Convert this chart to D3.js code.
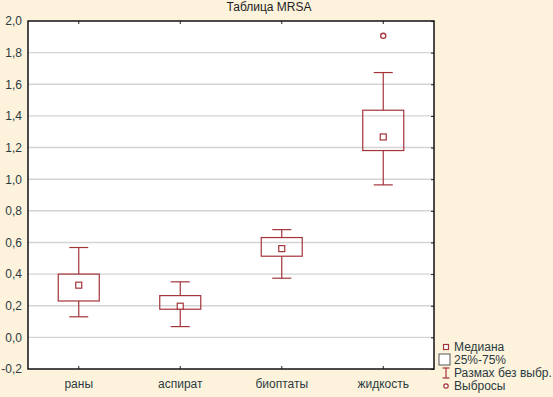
<!DOCTYPE html>
<html><head><meta charset="utf-8">
<script src="https://cdn.jsdelivr.net/npm/d3@7"></script>
<style>
html,body{margin:0;padding:0;background:#FDF3DC;}
svg{display:block;font-family:Arial,"Liberation Sans",sans-serif;}
</style></head>
<body>
<svg id="c" width="553" height="397"></svg>
<script>
const categories = ["раны","аспират","биоптаты","жидкость"];
const medians = [0.33,0.197,0.561,1.267];
const q1 = [0.23,0.178,0.513,1.181];
const q3 = [0.40,0.264,0.631,1.436];
const whiskerLow = [0.13,0.068,0.374,0.964];
const whiskerHigh = [0.568,0.351,0.681,1.674];
const outliers = [[],[],[],[1.906]];
const yTicks = [-0.2,0,0.2,0.4,0.6,0.8,1.0,1.2,1.4,1.6,1.8,2.0];
const legendLabels = ["Медиана","25%-75%","Размах без выбр.","Выбросы"];
const title = "Таблица MRSA";

const svg = d3.select("#c");
const L=28,R=434,T=21,B=369;
const red="#A3343A", txt="#2B3A40";
const x = d3.scaleBand().domain(categories).range([L,R]).padding(0);
const y = d3.scaleLinear().domain([-0.2,2.0]).range([B,T]);
const fmt = d=>d3.format(".1f")(d).replace(".",",").replace("−","-");

svg.append("rect").attr("x",L).attr("y",T).attr("width",R-L).attr("height",B-T).attr("fill","#fff");
// grid
svg.append("g").selectAll("line").data(yTicks.slice(1,-1)).join("line")
 .attr("x1",L).attr("x2",R).attr("y1",d=>y(d)).attr("y2",d=>y(d))
 .attr("stroke","#d4d4d4").attr("stroke-width",1.4);

// axes
const yAx = svg.append("g").attr("transform",`translate(${L},0)`)
 .call(d3.axisLeft(y).tickValues(yTicks).tickFormat(fmt).tickSize(0).tickPadding(6));
yAx.select(".domain").remove();
yAx.selectAll("text").attr("fill",txt).attr("font-size",12);
const yAxR = svg.append("g").attr("transform",`translate(${R},0)`)
 .call(d3.axisLeft(y).tickValues(yTicks).tickFormat("").tickSize(3));
yAxR.select(".domain").remove(); yAxR.selectAll("line").attr("stroke","#222");

const xAx = svg.append("g").attr("transform",`translate(0,${B})`)
 .call(d3.axisTop(x).tickSize(3).tickPadding(0).tickFormat(""));
xAx.select(".domain").remove(); xAx.selectAll("line").attr("stroke","#222");
const xAxT = svg.append("g").attr("transform",`translate(0,${T})`)
 .call(d3.axisBottom(x).tickSize(3).tickFormat(""));
xAxT.select(".domain").remove(); xAxT.selectAll("line").attr("stroke","#222");
svg.append("g").selectAll("text").data(categories).join("text")
 .attr("x",d=>x(d)+x.bandwidth()/2).attr("y",B+19).attr("text-anchor","middle")
 .attr("fill",txt).attr("font-size",12).text(d=>d);

svg.append("rect").attr("x",L).attr("y",T).attr("width",R-L).attr("height",B-T)
 .attr("fill","none").attr("stroke","#111").attr("stroke-width",1.5);

// boxes
const g = svg.append("g");
categories.forEach((c,i)=>{
  const cx = x(c)+x.bandwidth()/2, bw=41, cw=19;
  g.append("line").attr("x1",cx).attr("x2",cx).attr("y1",y(whiskerHigh[i])).attr("y2",y(q3[i])).attr("stroke",red).attr("stroke-width",1.2);
  g.append("line").attr("x1",cx).attr("x2",cx).attr("y1",y(q1[i])).attr("y2",y(whiskerLow[i])).attr("stroke",red).attr("stroke-width",1.2);
  [whiskerHigh[i],whiskerLow[i]].forEach(v=>g.append("line").attr("x1",cx-cw/2).attr("x2",cx+cw/2).attr("y1",y(v)).attr("y2",y(v)).attr("stroke",red).attr("stroke-width",1.2));
  g.append("rect").attr("x",cx-bw/2).attr("y",y(q3[i])).attr("width",bw).attr("height",y(q1[i])-y(q3[i]))
   .attr("fill","none").attr("stroke",red).attr("stroke-width",1.2);
  g.append("rect").attr("x",cx-3).attr("y",y(medians[i])-3).attr("width",6).attr("height",6)
   .attr("fill","#fff").attr("stroke",red).attr("stroke-width",1.2);
  outliers[i].forEach(v=>g.append("circle").attr("cx",cx).attr("cy",y(v)).attr("r",2.6)
   .attr("fill","#fff").attr("stroke",red).attr("stroke-width",1.3));
});

// title
svg.append("text").attr("x",269).attr("y",11).attr("text-anchor","middle").attr("fill","#222")
 .attr("font-size",12).text(title);

// legend
const ly=[347,360,373,386], lx=446;
const lg=svg.append("g");
lg.append("rect").attr("x",lx-2.5).attr("y",ly[0]-2.5).attr("width",5).attr("height",5).attr("fill","#fff").attr("stroke",red).attr("stroke-width",1.2);
lg.append("rect").attr("x",lx-7).attr("y",ly[1]-6).attr("width",11).attr("height",11).attr("fill","#fff").attr("stroke","#555").attr("stroke-width",1);
lg.append("line").attr("x1",lx).attr("x2",lx).attr("y1",ly[2]-5).attr("y2",ly[2]+5).attr("stroke",red).attr("stroke-width",1.2);
lg.append("line").attr("x1",lx-3.5).attr("x2",lx+3.5).attr("y1",ly[2]-5).attr("y2",ly[2]-5).attr("stroke",red).attr("stroke-width",1.2);
lg.append("line").attr("x1",lx-3.5).attr("x2",lx+3.5).attr("y1",ly[2]+5).attr("y2",ly[2]+5).attr("stroke",red).attr("stroke-width",1.2);
lg.append("circle").attr("cx",lx).attr("cy",ly[3]).attr("r",2.2).attr("fill","#fff").attr("stroke",red).attr("stroke-width",1.2);
lg.selectAll("text").data(legendLabels).join("text").attr("x",454).attr("y",(d,i)=>ly[i]+4)
 .attr("fill",txt).attr("font-size",12).text(d=>d);
</script>
</body></html>
